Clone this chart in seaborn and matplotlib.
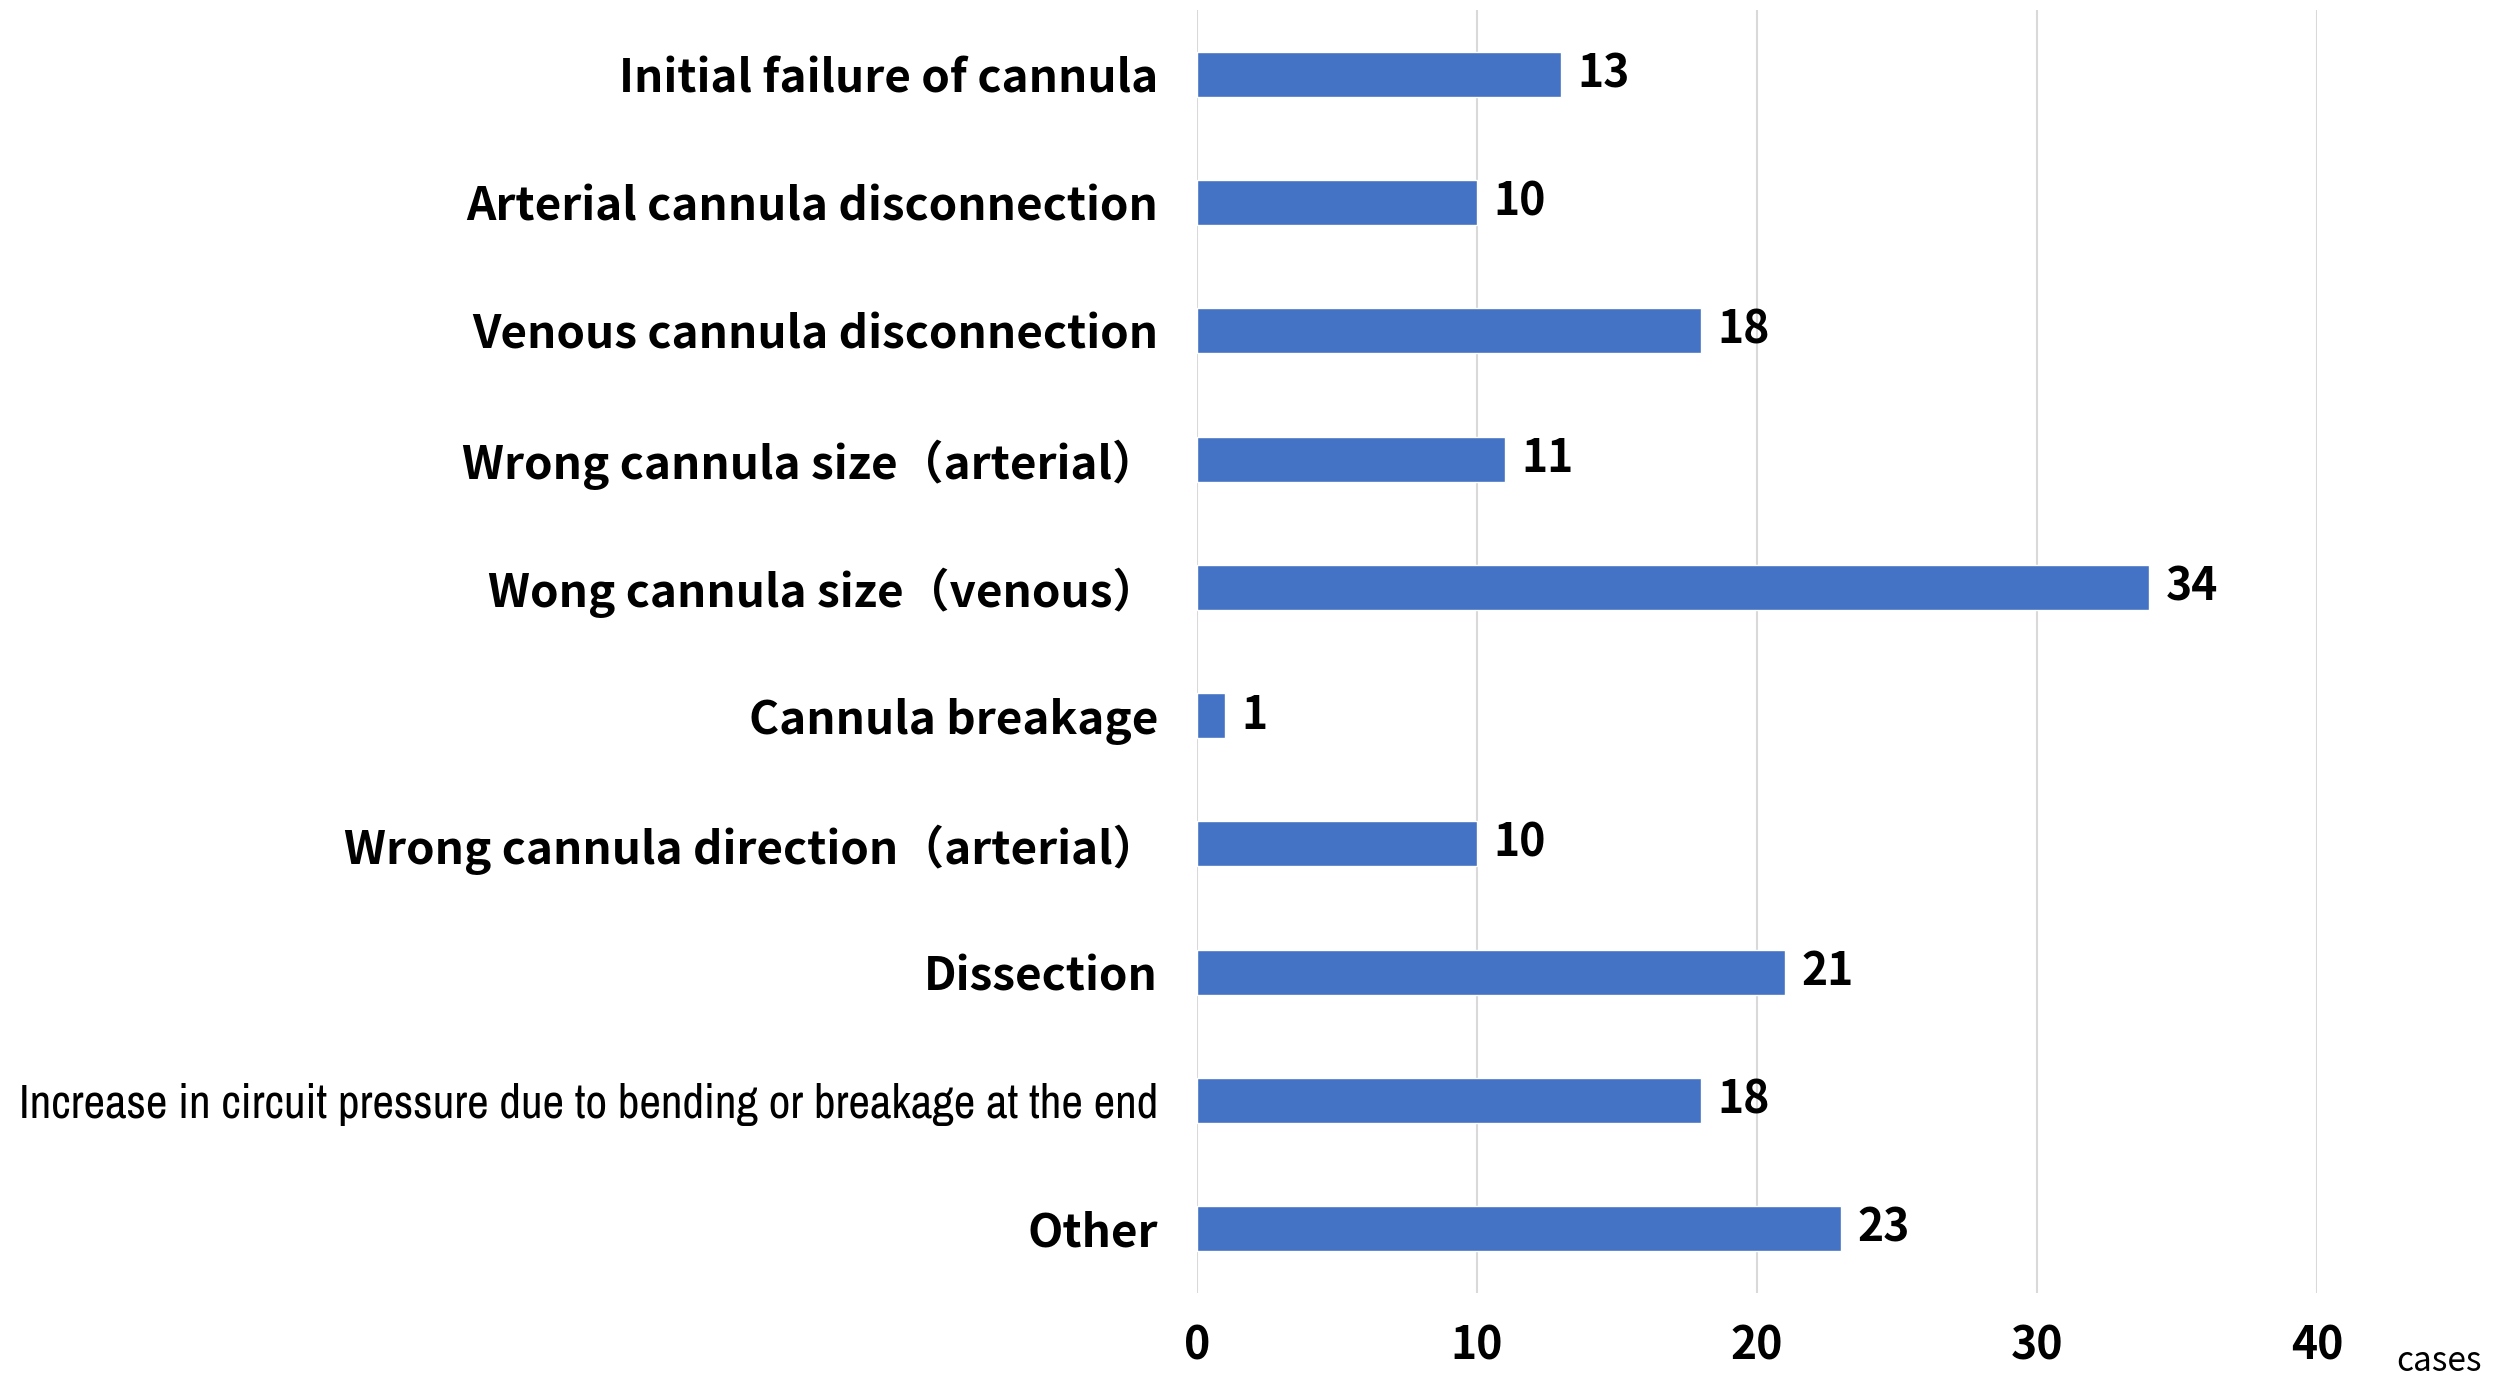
import matplotlib
matplotlib.use('Agg')
import matplotlib.pyplot as plt
import matplotlib.font_manager as fm
import pandas as pd
import seaborn as sns

# data
categories = [
    'Initial failure of cannula',
    'Arterial cannula disconnection',
    'Venous cannula disconnection',
    'Wrong cannula size（arterial）',
    'Wong cannula size（venous）',
    'Cannula breakage',
    'Wrong cannula direction（arterial）',
    'Dissection',
    'Increase in circuit pressure due to bending or breakage at the end',
    'Other',
]
cases = [13, 10, 18, 11, 34, 1, 10, 21, 18, 23]
x_ticks = [0, 10, 20, 30, 40]

df = pd.DataFrame({'category': categories, 'cases': cases})

sns.set_theme(style='white')
plt.rcParams['font.family'] = ['Noto Sans CJK JP', 'DejaVu Sans']

fig = plt.figure(figsize=(25.12, 13.79), dpi=100)
ax = fig.add_axes([0.4765, 0.0624, 0.446, 0.9303])

sns.barplot(data=df, y='category', x='cases', color='#4472C4', saturation=1,
            width=0.35, orient='h', ax=ax, zorder=3)

ax.set_xlim(0, 40)
ax.set_ylim(len(categories) - 0.5, -0.5)
ax.set_xticks(x_ticks)
ax.grid(axis='x', color='#d9d9d9', linewidth=1.5, zorder=0)
ax.set_axisbelow(True)
for s in ax.spines.values():
    s.set_visible(False)
ax.tick_params(axis='both', length=0)
ax.tick_params(axis='x', pad=22, labelsize=32)
ax.tick_params(axis='y', pad=28, labelsize=33)
for lab in ax.get_xticklabels():
    lab.set_fontweight('bold')
    lab.set_color('black')

narrow = [f.name for f in fm.fontManager.ttflist if 'Narrow' in f.name]
for lab in ax.get_yticklabels():
    lab.set_fontweight('bold')
    lab.set_color('black')
    if lab.get_text().startswith('Increase'):
        if narrow:
            lab.set_family(narrow[0])
        lab.set_fontsize(34)

ax.set_xlabel('')
ax.set_ylabel('')

for i, v in enumerate(cases):
    ax.annotate(str(v), xy=(v, i), xytext=(12, 0), textcoords='offset points',
                ha='left', va='center', fontsize=32, fontweight='bold', color='black')

fig.text(0.971, 0.013, 'cases', ha='center', va='center', fontsize=24, color='black')

fig.savefig('out.png', dpi=100)
